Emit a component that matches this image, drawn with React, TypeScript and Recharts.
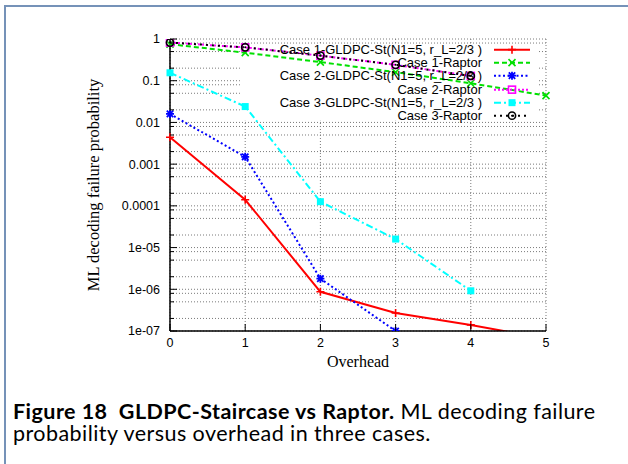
import {
  LineChart,
  Line,
  XAxis,
  YAxis,
  CartesianGrid,
  Legend,
  ReferenceArea,
} from "recharts";

// overhead values on the x axis
const overhead = [0, 1, 2, 3, 4, 5];

// ML decoding failure probability
const case1Gldpc = [4.4e-3, 1.4e-4, 8.7e-7, 2.7e-7, 1.4e-7, 6.5e-8];
const case1Raptor = [0.75, 0.47, 0.28, 0.16, 0.087, 0.044];
const case2Gldpc = [0.016, 0.0015, 1.8e-6, 1e-7, null, null];
const case2Raptor = [0.82, 0.63, 0.4, 0.24, 0.13, null];
const case3Gldpc = [0.155, 0.024, 1.26e-4, 1.6e-5, 9.2e-7, null];
const case3Raptor = [0.82, 0.63, 0.4, 0.24, 0.13, null];

const seriesNames = [
  "Case 1-GLDPC-St(N1=5, r_L=2/3 )",
  "Case 1-Raptor",
  "Case 2-GLDPC-St(N1=5, r_L=2/3 )",
  "Case 2-Raptor",
  "Case 3-GLDPC-St(N1=5, r_L=2/3 )",
  "Case 3-Raptor",
];

const xTicks = [0, 1, 2, 3, 4, 5];
const yMajorTicks = [1e-7, 1e-6, 1e-5, 1e-4, 1e-3, 0.01, 0.1, 1];
const yMajorLabels = ["1e-07", "1e-06", "1e-05", "0.0001", "0.001", "0.01", "0.1", "1"];
const yMinorSteps = [2, 5, 8];

const yMinorTicks = yMajorTicks.slice(0, -1).flatMap((d) => yMinorSteps.map((s) => d * s));
const yTicks = [...yMajorTicks, ...yMinorTicks].sort((a, b) => a - b);

const majorIndex = (v: number) =>
  yMajorTicks.findIndex((m) => Math.abs(Math.log10(m) - Math.log10(v)) < 1e-6);

const data = overhead.map((x, i) => ({
  x,
  c1g: case1Gldpc[i],
  c1r: case1Raptor[i],
  c2g: case2Gldpc[i],
  c2r: case2Raptor[i],
  c3g: case3Gldpc[i],
  c3r: case3Raptor[i],
}));

type Marker = "plus" | "cross" | "star" | "box" | "fbox" | "circle";

const styles: { key: string; color: string; dash?: string; marker: Marker }[] = [
  { key: "c1g", color: "#ff0000", marker: "plus" },
  { key: "c1r", color: "#00e000", dash: "5 3", marker: "cross" },
  { key: "c2g", color: "#0000ff", dash: "2 2.5", marker: "star" },
  { key: "c2r", color: "#ff00ff", dash: "2 2", marker: "box" },
  { key: "c3g", color: "#00ffff", dash: "7 3 2 3", marker: "fbox" },
  { key: "c3r", color: "#000000", dash: "2 4", marker: "circle" },
];

const FONT = "'Liberation Sans', Arial, sans-serif";
const SERIF = "'Liberation Serif', 'Times New Roman', serif";

function drawMarker(kind: Marker, cx: number, cy: number, color: string) {
  const s = 4;
  switch (kind) {
    case "plus":
      return (
        <path d={`M${cx - s},${cy}h${2 * s}M${cx},${cy - s}v${2 * s}`} stroke={color} strokeWidth={1.6} fill="none" />
      );
    case "cross":
      return (
        <path
          d={`M${cx - 3.5},${cy - 3.5}l7,7M${cx - 3.5},${cy + 3.5}l7,-7`}
          stroke={color}
          strokeWidth={1.6}
          fill="none"
        />
      );
    case "star":
      return (
        <path
          d={`M${cx - s},${cy}h${2 * s}M${cx},${cy - s}v${2 * s}M${cx - 3.2},${cy - 3.2}l6.4,6.4M${cx - 3.2},${cy + 3.2}l6.4,-6.4`}
          stroke={color}
          strokeWidth={1.8}
          fill="none"
        />
      );
    case "box":
      return <rect x={cx - 3.5} y={cy - 3.5} width={7} height={7} stroke={color} strokeWidth={1.6} fill="none" />;
    case "fbox":
      return <rect x={cx - 3.5} y={cy - 3.5} width={7} height={7} fill={color} />;
    case "circle":
      return (
        <g>
          <circle cx={cx} cy={cy} r={3.6} stroke={color} strokeWidth={1.6} fill="none" />
          <circle cx={cx} cy={cy} r={1} fill={color} />
        </g>
      );
  }
}

const makeDot = (kind: Marker, color: string) => (p: any) => {
  if (p.cx == null || p.cy == null || p.value == null) return <g key={`e${p.index}`} />;
  return <g key={`d${p.index}`}>{drawMarker(kind, p.cx, p.cy, color)}</g>;
};

const LeftTick = (p: any) => {
  const i = majorIndex(p.payload.value);
  const ax = p.x + 10;
  return (
    <g>
      <line x1={ax} x2={ax + (i >= 0 ? 7 : 4)} y1={p.y} y2={p.y} stroke="#000" />
      {i >= 0 && (
        <text x={p.x} y={p.y} dy="0.35em" textAnchor="end" fontSize={12.5} fontFamily={FONT} fill="#000">
          {yMajorLabels[i]}
        </text>
      )}
    </g>
  );
};

const RightTick = (p: any) => {
  const i = majorIndex(p.payload.value);
  return <line x1={p.x} x2={p.x - (i >= 0 ? 7 : 4)} y1={p.y} y2={p.y} stroke="#000" />;
};

const BottomTick = (p: any) => {
  const ay = p.y - 7;
  return (
    <g>
      <line x1={p.x} x2={p.x} y1={ay} y2={ay - 7} stroke="#000" />
      <text x={p.x} y={p.y} dy="0.72em" textAnchor="middle" fontSize={12.5} fontFamily={FONT} fill="#000">
        {p.payload.value}
      </text>
    </g>
  );
};

const TopTick = (p: any) => <line x1={p.x} x2={p.x} y1={p.y} y2={p.y + 7} stroke="#000" />;

const KeyBox = () => (
  <div style={{ fontFamily: FONT, fontSize: 13, color: "#000" }}>
    {styles.map((s, i) => (
      <div key={s.key} style={{ display: "flex", alignItems: "center", height: 13.33 }}>
        <span style={{ flex: 1, textAlign: "right", whiteSpace: "nowrap", lineHeight: "13.33px" }}>
          {seriesNames[i]}
        </span>
        <svg width={36} height={13.33} style={{ marginLeft: 12, display: "block" }}>
          <line x1={0} x2={36} y1={6.66} y2={6.66} stroke={s.color} strokeWidth={2} strokeDasharray={s.dash} />
          {drawMarker(s.marker, 18, 6.66, s.color)}
        </svg>
      </div>
    ))}
  </div>
);

export default function App() {
  return (
    <div
      style={{
        position: "absolute",
        left: 0,
        top: 0,
        width: 628,
        height: 464,
        background: "#fff",
        overflow: "hidden",
      }}
    >
      <div
        style={{
          position: "absolute",
          left: 4,
          top: 5,
          width: 700,
          height: 600,
          borderLeft: "2px solid #7592b8",
          borderTop: "2px solid #7592b8",
        }}
      />
      <div style={{ position: "absolute", left: 0, top: 0 }}>
        <LineChart width={628} height={380} data={data} margin={{ top: 39, right: 82, bottom: 29, left: 90 }}>
          <CartesianGrid stroke="#7a7a7a" strokeDasharray="1 2" />
          <ReferenceArea x1={0.93} x2={4.9} y1={0.011} y2={0.75} fill="#fff" fillOpacity={1} stroke="none" />
          <XAxis
            dataKey="x"
            type="number"
            domain={[0, 5]}
            ticks={xTicks}
            interval={0}
            height={20}
            tickSize={0}
            tickMargin={7}
            tick={<BottomTick />}
            axisLine={{ stroke: "#000", strokeWidth: 1.5 }}
            label={{
              value: "Overhead",
              position: "bottom",
              offset: 5,
              style: { fontFamily: SERIF, fontSize: 16, fill: "#000" },
            }}
          />
          <XAxis
            xAxisId="top"
            orientation="top"
            dataKey="x"
            type="number"
            domain={[0, 5]}
            ticks={xTicks}
            interval={0}
            height={0}
            tickSize={0}
            tickMargin={0}
            tick={<TopTick />}
            axisLine={{ stroke: "#000", strokeWidth: 1.5 }}
          />
          <YAxis
            scale="log"
            type="number"
            domain={[1e-7, 1]}
            allowDataOverflow
            ticks={yTicks}
            interval={0}
            width={80}
            tickSize={0}
            tickMargin={10}
            tick={<LeftTick />}
            axisLine={{ stroke: "#000", strokeWidth: 1.5 }}
            label={{
              value: "ML decoding failure probability",
              angle: -90,
              position: "insideLeft",
              offset: 3,
              style: { textAnchor: "middle", fontFamily: SERIF, fontSize: 16.5, fill: "#000" },
            }}
          />
          <YAxis
            yAxisId="right"
            orientation="right"
            scale="log"
            type="number"
            domain={[1e-7, 1]}
            allowDataOverflow
            ticks={yTicks}
            interval={0}
            width={0}
            tickSize={0}
            tickMargin={0}
            tick={<RightTick />}
            axisLine={{ stroke: "#000", strokeWidth: 1.5 }}
          />
          {styles.map((s) => (
            <Line
              key={s.key}
              dataKey={s.key}
              type="linear"
              stroke={s.color}
              strokeWidth={2}
              strokeDasharray={s.dash}
              dot={makeDot(s.marker, s.color)}
              activeDot={false}
              isAnimationActive={false}
            />
          ))}
          <Legend
            layout="vertical"
            align="center"
            verticalAlign="middle"
            wrapperStyle={{ left: 200, top: 42.7, width: 330 }}
            content={() => <KeyBox />}
          />
        </LineChart>
      </div>
      <div
        style={{
          position: "absolute",
          left: 13,
          top: 400,
          width: 610,
          fontFamily: "Lato, 'Open Sans', sans-serif",
          fontSize: 21.5,
          letterSpacing: 0.45,
          lineHeight: "22px",
          color: "#000",
        }}
      >
        <b>Figure 18&nbsp; GLDPC-Staircase vs Raptor.</b> ML decoding failure probability versus overhead in three
        cases.
      </div>
    </div>
  );
}
